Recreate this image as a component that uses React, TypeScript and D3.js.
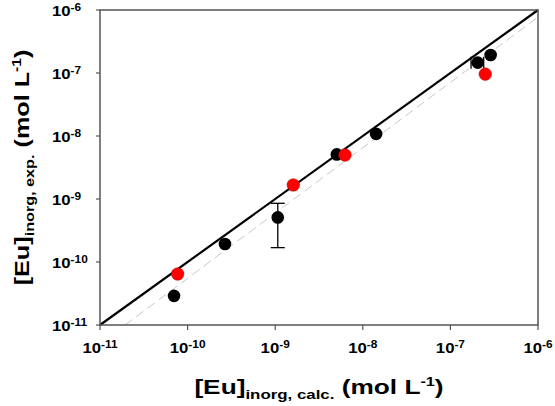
import React from 'react';
import * as d3 from 'd3';

// tick exponents on both axes
const tickExps = [-11, -10, -9, -8, -7, -6];

// black series: [Eu] calc vs exp
const blackX = [7.0e-11, 2.67e-10, 1.07e-9, 5.05e-9, 1.42e-8, 2.05e-7, 2.88e-7];
const blackY = [2.9e-11, 1.93e-10, 5.1e-10, 5.1e-9, 1.08e-8, 1.46e-7, 1.93e-7];

// red series
const redX = [7.7e-11, 1.61e-9, 6.26e-9, 2.5e-7];
const redY = [6.45e-11, 1.67e-9, 5.0e-9, 9.6e-8];

// error bars (index into black series)
const yErr = [{ i: 2, lo: 1.69e-10, hi: 8.55e-10 }];
const xErr = [{ i: 5, lo: 1.72e-7, hi: 2.4e-7 }];

// dashed fit line ends
const fitX = [1.93e-11, 1e-6];
const fitY = [1e-11, 7.7e-7];

const W = 555;
const H = 406;
const m = { left: 100, right: 17, top: 10, bottom: 81 };

const Pow10: React.FC<{ e: number }> = ({ e }) => (
  <>
    10<tspan dy={-5} fontSize={11}>{e}</tspan>
  </>
);

// axis title with subscript and L^-1
const Title: React.FC<{ sub: string }> = ({ sub }) => (
  <>
    [Eu]<tspan fontSize={13.5} dy={5}>{sub}</tspan>
    <tspan dy={-5}> (mol L</tspan>
    <tspan fontSize={13} dy={-8}>-1</tspan>
    <tspan dy={8}>)</tspan>
  </>
);

export default function App() {
  const x = d3.scaleLog().domain([1e-11, 1e-6]).range([m.left, W - m.right]);
  const y = d3.scaleLog().domain([1e-11, 1e-6]).range([H - m.bottom, m.top]);
  const [x0, x1] = x.range();
  const [y0, y1] = y.range();

  const font = 'Liberation Sans, Arial, sans-serif';

  return (
    <svg width={W} height={H} style={{ position: 'absolute', left: 0, top: 0, background: '#fff' }} fontFamily={font}>
      {/* 1:1 line */}
      <line x1={x(1e-11)} y1={y(1e-11)} x2={x(1e-6)} y2={y(1e-6)} stroke="#000" strokeWidth={2.2} />
      {/* fit line */}
      <line x1={x(fitX[0])} y1={y(fitY[0])} x2={x(fitX[1])} y2={y(fitY[1])} stroke="#c8c8c8" strokeWidth={1} strokeDasharray="9,5" />

      {/* frame */}
      <rect x={x0} y={y1} width={x1 - x0} height={y0 - y1} fill="none" stroke="#555" strokeWidth={1.5} />

      {/* x ticks */}
      {tickExps.map(e => (
        <g key={'xt' + e}>
          <line x1={x(10 ** e)} x2={x(10 ** e)} y1={y0} y2={y0 + 5} stroke="#555" strokeWidth={1.2} />
          <text
            transform={`translate(${x(10 ** e)}, ${y0 + 28}) scale(1.08, 1)`}
            textAnchor="middle"
            fontSize={15.5}
            fontWeight="bold"
          >
            <Pow10 e={e} />
          </text>
        </g>
      ))}
      {/* y ticks */}
      {tickExps.map(e => (
        <g key={'yt' + e}>
          <line x1={x0 - 4} x2={x0} y1={y(10 ** e)} y2={y(10 ** e)} stroke="#555" strokeWidth={1.2} />
          <text
            transform={`translate(52, ${y(10 ** e) + 6}) scale(1.08, 1)`}
            textAnchor="start"
            fontSize={15.5}
            fontWeight="bold"
          >
            <Pow10 e={e} />
          </text>
        </g>
      ))}

      {/* error bars */}
      {yErr.map(d => {
        const cx = x(blackX[d.i]);
        return (
          <g key={'ye' + d.i} stroke="#000" strokeWidth={1.3}>
            <line x1={cx} x2={cx} y1={y(d.lo)} y2={y(d.hi)} />
            <line x1={cx - 7} x2={cx + 7} y1={y(d.lo)} y2={y(d.lo)} />
            <line x1={cx - 7} x2={cx + 7} y1={y(d.hi)} y2={y(d.hi)} />
          </g>
        );
      })}
      {xErr.map(d => {
        const cy = y(blackY[d.i]);
        return (
          <g key={'xe' + d.i} stroke="#000" strokeWidth={1.3}>
            <line x1={x(d.lo)} x2={x(d.hi)} y1={cy} y2={cy} />
            <line x1={x(d.lo)} x2={x(d.lo)} y1={cy - 6} y2={cy + 6} />
            <line x1={x(d.hi)} x2={x(d.hi)} y1={cy - 6} y2={cy + 6} />
          </g>
        );
      })}

      {/* points */}
      {blackX.map((v, i) => (
        <circle key={'b' + i} cx={x(v)} cy={y(blackY[i])} r={6.3} fill="#000" />
      ))}
      {redX.map((v, i) => (
        <circle key={'r' + i} cx={x(v)} cy={y(redY[i])} r={6.3} fill="#ff0000" stroke="#c00000" strokeWidth={0.5} />
      ))}

      {/* x title */}
      <text
        transform={`translate(${(x0 + x1) / 2}, 394) scale(1.25, 1)`}
        textAnchor="middle"
        fontSize={21}
        fontWeight="bold"
      >
        <Title sub="inorg, calc." />
      </text>

      {/* y title */}
      <text
        transform={`translate(29, ${(y0 + y1) / 2}) rotate(-90) scale(1.2, 1)`}
        textAnchor="middle"
        fontSize={21}
        fontWeight="bold"
      >
        <Title sub="inorg, exp." />
      </text>
    </svg>
  );
}
